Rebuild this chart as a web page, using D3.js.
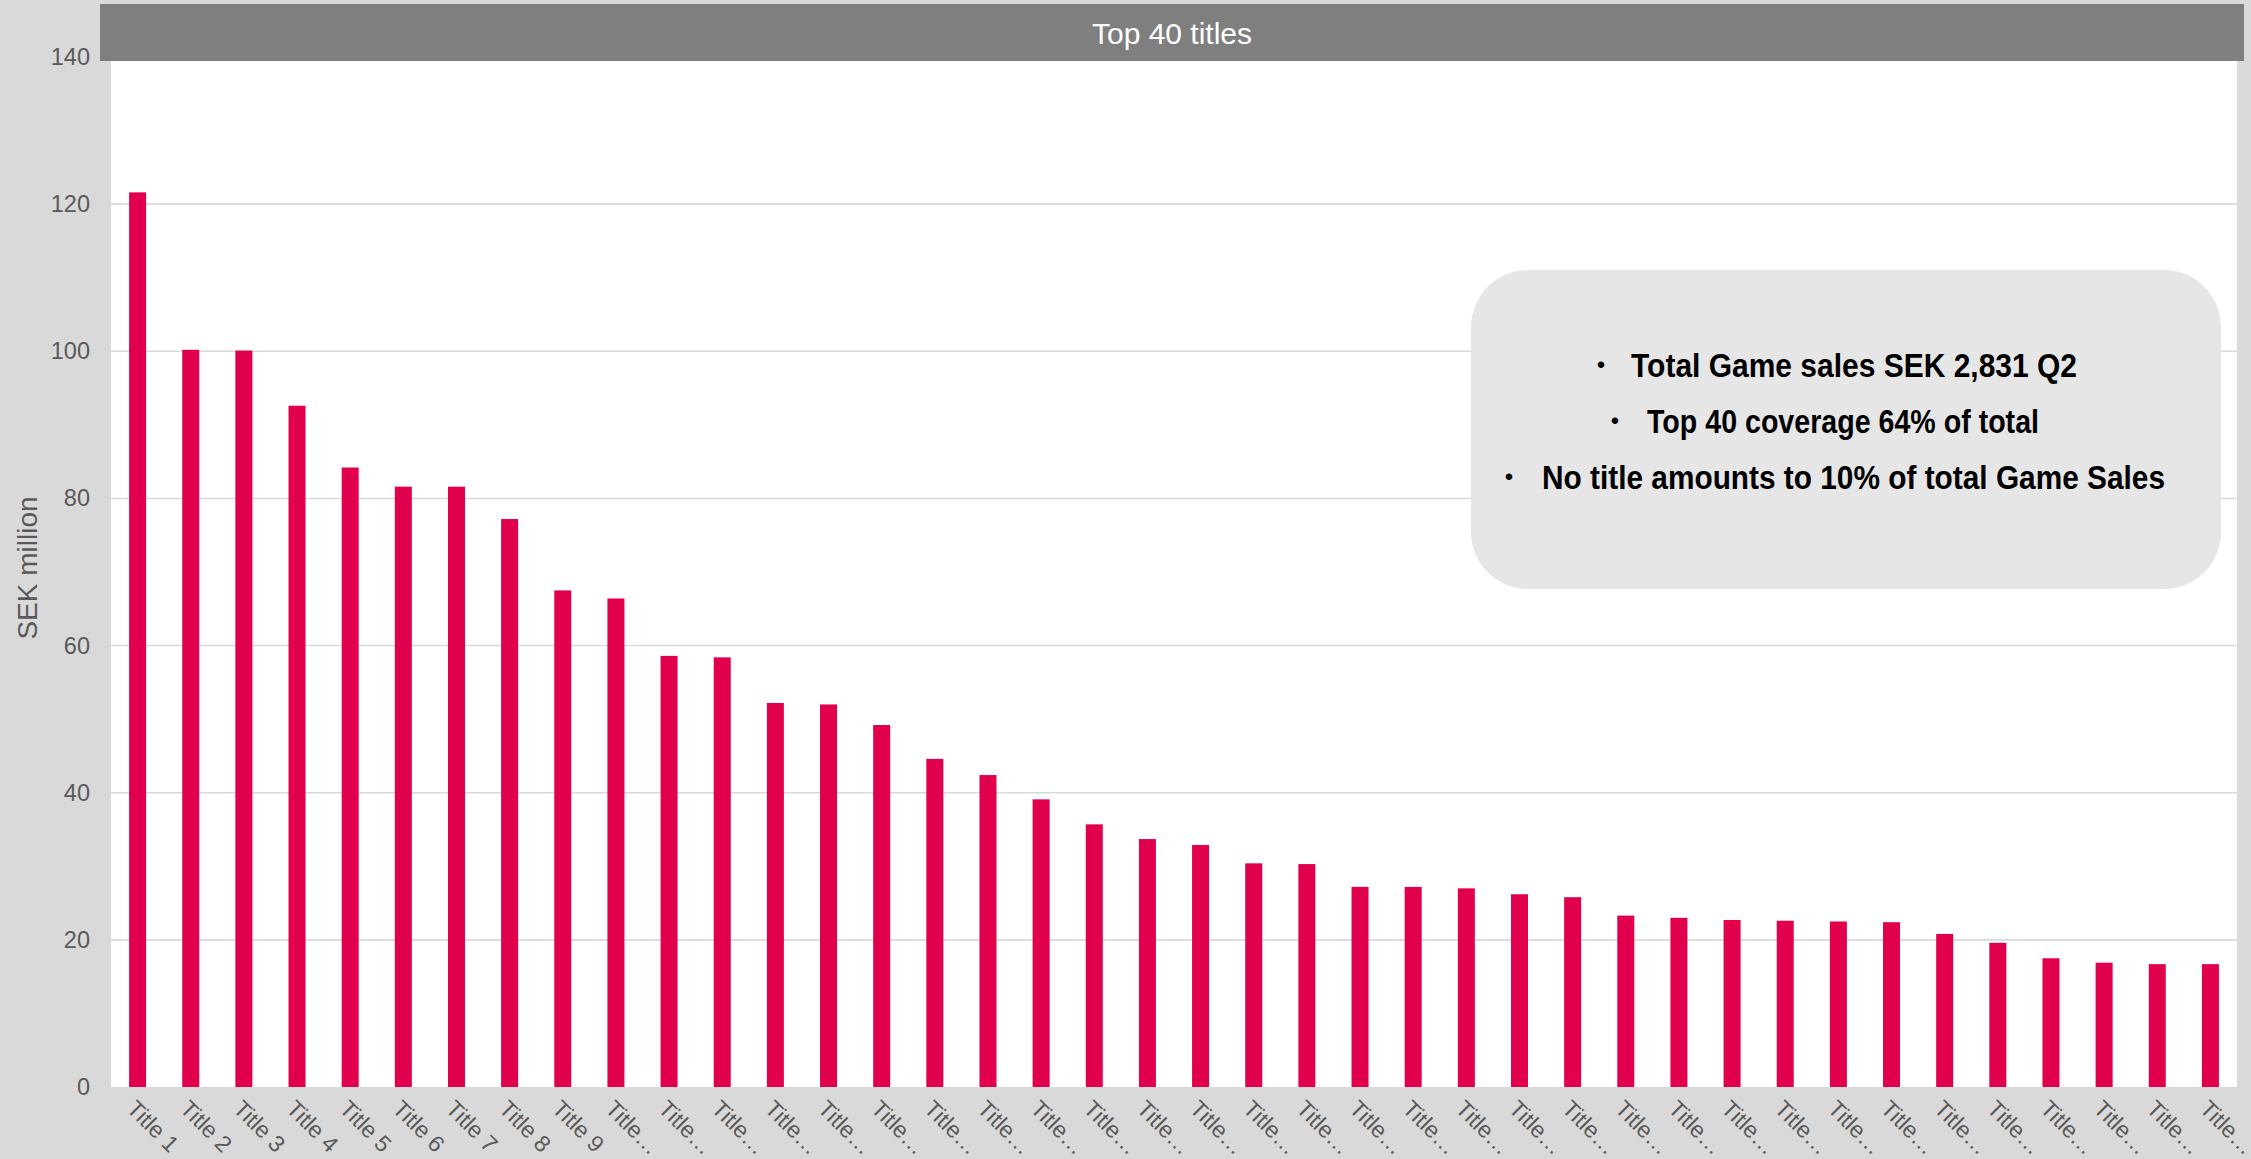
<!DOCTYPE html>
<html>
<head>
<meta charset="utf-8">
<script src="https://cdn.jsdelivr.net/npm/d3@7"></script>
<style>
  html, body { margin: 0; padding: 0; background: #d9d9d9; }
  svg { display: block; }
  text { font-family: "Liberation Sans", Arial, sans-serif; }
</style>
</head>
<body>
<svg id="chart" width="2251" height="1159"></svg>
<script>
// Top 40 titles by sales, SEK million
const categories = [
  "Title 1", "Title 2", "Title 3", "Title 4", "Title 5", "Title 6", "Title 7", "Title 8",
  "Title 9", "Title 10", "Title 11", "Title 12", "Title 13", "Title 14", "Title 15", "Title 16",
  "Title 17", "Title 18", "Title 19", "Title 20", "Title 21", "Title 22", "Title 23", "Title 24",
  "Title 25", "Title 26", "Title 27", "Title 28", "Title 29", "Title 30", "Title 31", "Title 32",
  "Title 33", "Title 34", "Title 35", "Title 36", "Title 37", "Title 38", "Title 39", "Title 40"
];
const sales = [
  121.6, 100.2, 100.1, 92.6, 84.2, 81.6, 81.6, 77.2, 67.5, 66.4,
  58.6, 58.4, 52.2, 52.0, 49.2, 44.6, 42.4, 39.1, 35.7, 33.7,
  32.9, 30.4, 30.3, 27.2, 27.2, 27.0, 26.2, 25.8, 23.3, 23.0,
  22.7, 22.6, 22.5, 22.4, 20.8, 19.6, 17.5, 16.9, 16.7, 16.7
];
const yTicks = [0, 20, 40, 60, 80, 100, 120, 140];
const chartTitle = "Top 40 titles";
const yAxisTitle = "SEK million";
const notes = [
  "Total Game sales SEK 2,831 Q2",
  "Top 40 coverage 64% of total",
  "No title amounts to 10% of total Game Sales"
];

const svg = d3.select("#chart");
const plot = { left: 111, right: 2237, top: 57, bottom: 1087 };

const x = d3.scaleBand()
  .domain(categories)
  .range([plot.left, plot.right])
  .paddingInner(0.68)
  .paddingOuter(0.34);

const y = d3.scaleLinear()
  .domain([0, 140])
  .range([plot.bottom, plot.top]);

// plot area
svg.append("rect")
  .attr("x", plot.left).attr("y", plot.top)
  .attr("width", plot.right - plot.left).attr("height", plot.bottom - plot.top)
  .attr("fill", "#ffffff");

// horizontal gridlines
svg.append("g")
  .selectAll("line")
  .data(yTicks.filter(t => t > 0))
  .join("line")
  .attr("x1", plot.left).attr("x2", plot.right)
  .attr("y1", d => y(d)).attr("y2", d => y(d))
  .attr("stroke", "#d9d9d9")
  .attr("stroke-width", 1.6);

// bars
svg.append("g")
  .selectAll("rect")
  .data(categories.map((c, i) => ({ c, v: sales[i] })))
  .join("rect")
  .attr("x", d => x(d.c))
  .attr("width", x.bandwidth())
  .attr("y", d => y(d.v))
  .attr("height", d => y(0) - y(d.v))
  .attr("fill", "#e1004e");

// y axis
const yAxis = svg.append("g")
  .attr("transform", `translate(${plot.left},0)`)
  .call(d3.axisLeft(y).tickValues(yTicks).tickFormat(d3.format("d")).tickSize(0).tickPadding(21));
yAxis.select(".domain").remove();
yAxis.selectAll("text")
  .attr("font-family", "'Liberation Sans', Arial, sans-serif")
  .attr("font-size", 23.5)
  .attr("fill", "#595959");

// x axis, labels rotated 45 degrees; long names are shortened with an ellipsis
const shortLabel = s => (s.length > 7 ? s.slice(0, 5) + "\u2026" : s);
const xAxis = svg.append("g")
  .attr("transform", `translate(0,${plot.bottom})`)
  .call(d3.axisBottom(x).tickSize(0).tickFormat(shortLabel));
xAxis.select(".domain").remove();
xAxis.selectAll("text")
  .attr("font-family", "'Liberation Sans', Arial, sans-serif")
  .attr("font-size", 23)
  .attr("fill", "#595959")
  .attr("text-anchor", "start")
  .attr("dy", null)
  .attr("y", 0)
  .attr("transform", "translate(-12,23) rotate(45)");

// y axis title
svg.append("text")
  .attr("transform", "translate(37,568) rotate(-90)")
  .attr("text-anchor", "middle")
  .attr("font-size", 28)
  .attr("fill", "#595959")
  .text(yAxisTitle);

// title bar
svg.append("rect")
  .attr("x", 100).attr("y", 4)
  .attr("width", 2144).attr("height", 57)
  .attr("fill", "#7f7f7f");
svg.append("text")
  .attr("x", 1172).attr("y", 44)
  .attr("text-anchor", "middle")
  .attr("font-size", 30)
  .attr("fill", "#ffffff")
  .text(chartTitle);

// callout with summary notes
const callout = svg.append("g");
callout.append("rect")
  .attr("x", 1471).attr("y", 270)
  .attr("width", 750).attr("height", 319)
  .attr("rx", 57).attr("ry", 57)
  .attr("fill", "#e6e6e6");

const noteLayout = [
  { bx: 1601, tx: 1631, w: 446, base: 377 },
  { bx: 1615, tx: 1647, w: 392, base: 433 },
  { bx: 1509, tx: 1542, w: 623, base: 489 }
];
notes.forEach((t, i) => {
  const L = noteLayout[i];
  callout.append("text")
    .attr("x", L.bx).attr("y", L.base - 4)
    .attr("text-anchor", "middle")
    .attr("font-size", 24)
    .attr("fill", "#000")
    .text("\u2022");
  callout.append("text")
    .attr("x", L.tx).attr("y", L.base)
    .attr("font-size", 33)
    .attr("font-weight", "bold")
    .attr("fill", "#000")
    .attr("textLength", L.w)
    .attr("lengthAdjust", "spacingAndGlyphs")
    .text(t);
});
</script>
</body>
</html>
